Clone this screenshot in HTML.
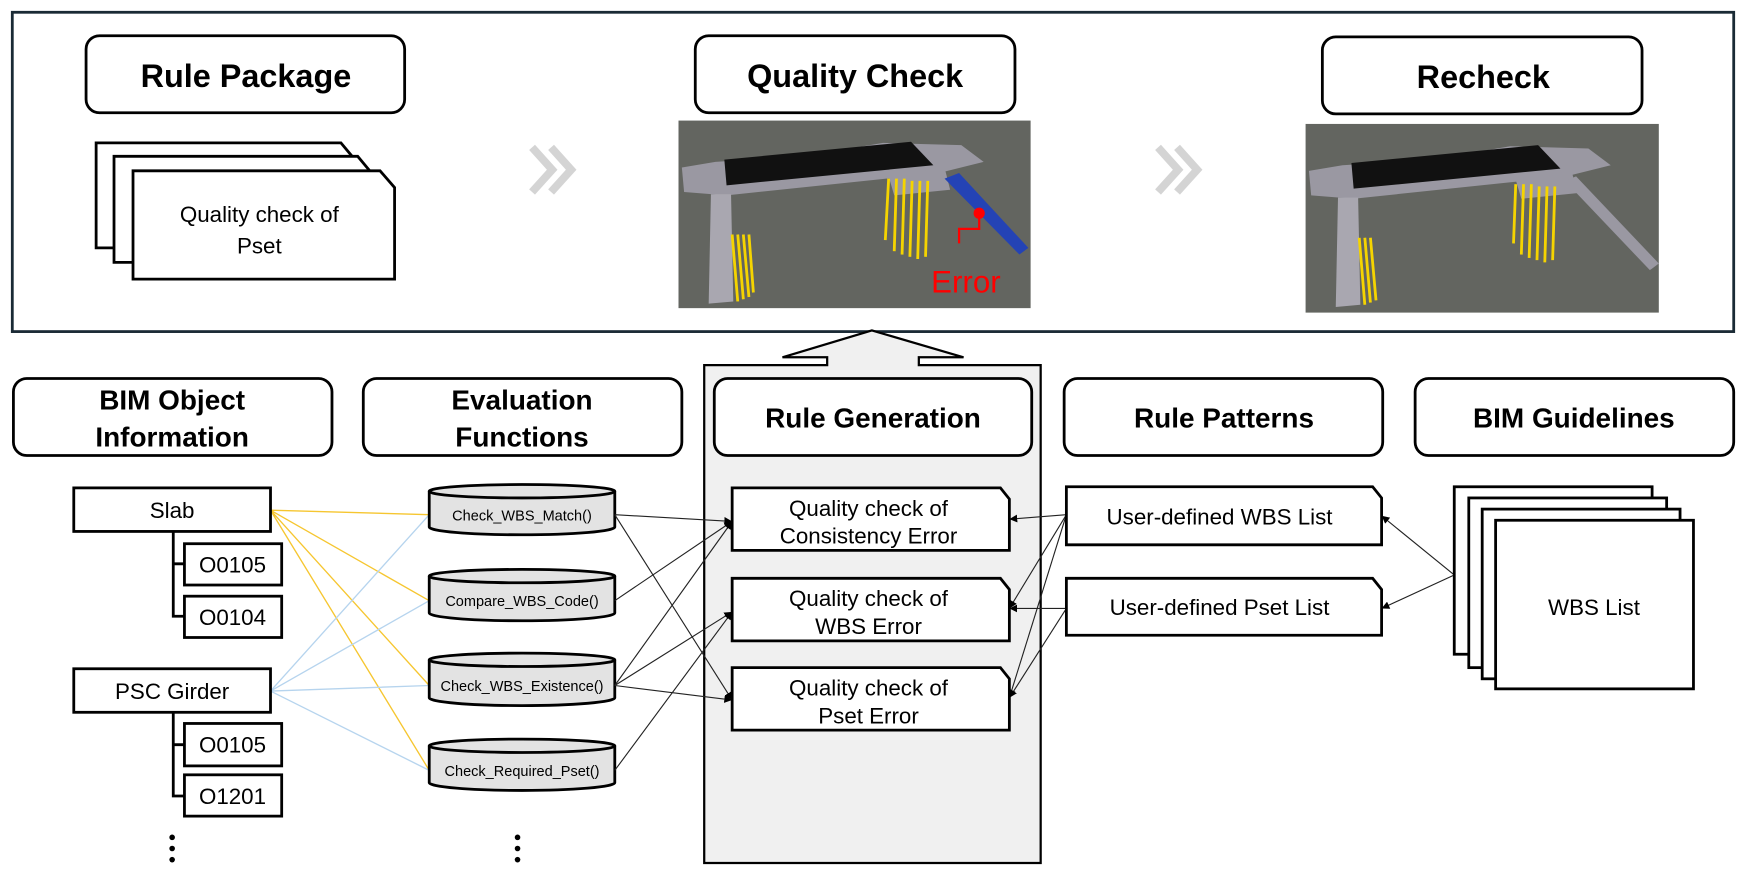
<!DOCTYPE html>
<html><head><meta charset="utf-8"><style>
html,body{margin:0;padding:0;background:#fff;width:1746px;height:882px;overflow:hidden}
svg{display:block}
text{font-family:"Liberation Sans","Noto Sans CJK KR",sans-serif}
.h{font-weight:bold;font-size:29px;text-anchor:middle}
.h2{font-weight:bold;font-size:25px;text-anchor:middle}
.t{font-size:20px;text-anchor:middle}
.c{font-size:13px;text-anchor:middle}
</style></head><body>
<svg width="1746" height="882" viewBox="0 0 1562 790" preserveAspectRatio="none" xmlns="http://www.w3.org/2000/svg">
<defs>
<marker id="ar" viewBox="0 0 10 10" refX="10" refY="5" markerWidth="7" markerHeight="7" orient="auto"><path d="M0,0L10,5L0,10z" fill="#000"/></marker>
</defs>
<rect x="11" y="11" width="1540" height="286" fill="#fff" stroke="#1a2a35" stroke-width="2.5"/>
<g fill="#fff" stroke="#000" stroke-width="2.5">
<rect x="77" y="32" width="285" height="69" rx="12"/>
<rect x="622" y="32" width="286" height="69" rx="12"/>
<rect x="1183" y="33" width="286" height="69" rx="12"/>
</g>
<text class="h" x="220" y="78">Rule Package</text>
<text class="h" x="765" y="78">Quality Check</text>
<text class="h" x="1327" y="79">Recheck</text>
<g fill="#fff" stroke="#000" stroke-width="2.5">
<path d="M86,128H305L315,140V222H86Z"/>
<path d="M102,140H320L330,152V235H102Z"/>
<path d="M119,153H340L353,168V250H119Z"/>
</g>
<text class="t" x="232" y="199" font-size="21">Quality check of</text>
<text class="t" x="232" y="227" font-size="21">Pset</text>
<g fill="none" stroke="#d4d4d4" stroke-width="7">
<path d="M476,132L494,152L476,172"/><path d="M493,132L511,152L493,172"/>
<path d="M1036,132L1054,152L1036,172"/><path d="M1053,132L1071,152L1053,172"/>
</g>
<g>
<rect x="607" y="108" width="315" height="168" fill="#636560"/>
<path d="M610,150L640,145L720,140L790,128L860,130L880,145L840,155L650,175L612,172Z" fill="#9a98a2"/>
<path d="M648,143L815,127L835,148L650,166Z" fill="#111"/>
<path d="M795,158L845,150L850,170L800,175Z" fill="#9a98a2"/>
<path d="M636,174L654,174L656,270L634,272Z" fill="#a9a7b0"/>
<g stroke="#f5d400" stroke-width="2.5"><path d="M655,210L660,270M660,210L665,268M665,210L670,266M670,210L674,262"/><path d="M795,160L792,215M802,160L800,225M809,160L807,228M816,162L814,230M823,162L821,232M830,162L828,230"/></g>
<path d="M845,160L858,155L920,222L912,228Z" fill="#2443b5"/>
<circle cx="876" cy="191" r="5" fill="#f00"/>
<path d="M876,191V205H858V218" stroke="#f00" stroke-width="2" fill="none"/>
<text x="833" y="262" fill="#f00" font-size="28" style="font-family:'Liberation Sans',sans-serif">Error</text>
<rect x="1168" y="111" width="316" height="169" fill="#636560"/>
<path d="M1171,153L1201,148L1281,143L1351,131L1421,133L1441,148L1401,158L1211,178L1173,175Z" fill="#9a98a2"/>
<path d="M1209,146L1376,130L1396,151L1211,169Z" fill="#111"/>
<path d="M1356,161L1406,153L1411,173L1361,178Z" fill="#9a98a2"/>
<path d="M1197,177L1215,177L1217,273L1195,275Z" fill="#a9a7b0"/>
<path d="M1400,162L1410,158L1484,236L1476,242Z" fill="#9a98a2"/>
<g stroke="#f5d400" stroke-width="2.5"><path d="M1216,213L1221,273M1221,213L1226,271M1226,213L1231,269"/><path d="M1356,165L1354,218M1363,165L1361,228M1370,165L1368,231M1377,167L1375,233M1384,167L1382,235M1391,167L1389,233"/></g>
</g>
<path d="M630,773V327H740V320H700L780,296L862,320H822V327H931V773Z" fill="#f0f0f0" stroke="#000" stroke-width="2"/>
<g fill="#fff" stroke="#000" stroke-width="2.5">
<rect x="12" y="339" width="285" height="69" rx="12"/>
<rect x="325" y="339" width="285" height="69" rx="12"/>
<rect x="639" y="339" width="284" height="69" rx="12"/>
<rect x="952" y="339" width="285" height="69" rx="12"/>
<rect x="1266" y="339" width="285" height="69" rx="12"/>
</g>
<text class="h2" x="154" y="367">BIM Object</text>
<text class="h2" x="154" y="400">Information</text>
<text class="h2" x="467" y="367">Evaluation</text>
<text class="h2" x="467" y="400">Functions</text>
<text class="h2" x="781" y="383">Rule Generation</text>
<text class="h2" x="1095" y="383">Rule Patterns</text>
<text class="h2" x="1408" y="383">BIM Guidelines</text>
<g stroke="#f6c630" stroke-width="1.2" fill="none">
<path d="M242,457L384,461M242,457L384,538M242,457L384,614M242,457L384,690"/>
</g>
<g stroke="#b6d4ee" stroke-width="1.2" fill="none">
<path d="M242,619L384,461M242,619L384,538M242,619L384,614M242,619L384,690"/>
</g>
<g stroke="#000" stroke-width="2.5" fill="none">
<path d="M155,476V552H165M155,505H165"/>
<path d="M155,638V713H165M155,667H165"/>
</g>
<g fill="#fff" stroke="#000" stroke-width="2.5">
<rect x="66" y="437" width="176" height="39"/>
<rect x="165" y="487" width="87" height="37"/>
<rect x="165" y="534" width="87" height="37"/>
<rect x="66" y="599" width="176" height="39"/>
<rect x="165" y="648" width="87" height="38"/>
<rect x="165" y="694" width="87" height="37"/>
</g>
<text class="t" x="154" y="464">Slab</text>
<text class="t" x="208" y="513">O0105</text>
<text class="t" x="208" y="560">O0104</text>
<text class="t" x="154" y="626">PSC Girder</text>
<text class="t" x="208" y="674">O0105</text>
<text class="t" x="208" y="720">O1201</text>
<g fill="#000"><circle cx="154" cy="750" r="2.5"/><circle cx="154" cy="760" r="2.5"/><circle cx="154" cy="770" r="2.5"/>
<circle cx="463" cy="750" r="2.5"/><circle cx="463" cy="760" r="2.5"/><circle cx="463" cy="770" r="2.5"/></g>
<g fill="#e3e3e3" stroke="#000" stroke-width="2.5">
<path d="M384,440V472A83,7 0 0 0 550,472V440"/><ellipse cx="467" cy="440" rx="83" ry="6"/>
<path d="M384,516V549A83,7 0 0 0 550,549V516"/><ellipse cx="467" cy="516" rx="83" ry="6"/>
<path d="M384,591V625A83,7 0 0 0 550,625V591"/><ellipse cx="467" cy="591" rx="83" ry="6"/>
<path d="M384,668V701A83,7 0 0 0 550,701V668"/><ellipse cx="467" cy="668" rx="83" ry="6"/>
</g>
<text class="c" x="467" y="466">Check_WBS_Match()</text>
<text class="c" x="467" y="543">Compare_WBS_Code()</text>
<text class="c" x="467" y="619">Check_WBS_Existence()</text>
<text class="c" x="467" y="695">Check_Required_Pset()</text>
<g stroke="#222" stroke-width="1" fill="none" marker-end="url(#ar)">
<path d="M550,461L655,467"/><path d="M550,461L655,627"/>
<path d="M550,538L655,467"/>
<path d="M550,614L655,467"/><path d="M550,614L655,548"/><path d="M550,614L655,627"/>
<path d="M550,690L655,548"/>
<path d="M954,461L903,465"/><path d="M954,461L903,545"/><path d="M954,461L903,625"/>
<path d="M954,545L903,545"/><path d="M954,545L903,625"/>
<path d="M1301,515L1236,462"/><path d="M1301,515L1236,545"/>
</g>
<g fill="#fff" stroke="#000" stroke-width="2.5">
<path d="M655,437H895L903,447V493H655Z"/>
<path d="M655,518H895L903,528V574H655Z"/>
<path d="M655,598H895L903,608V654H655Z"/>
<path d="M954,436H1228L1236,446V488H954Z"/>
<path d="M954,518H1228L1236,528V569H954Z"/>
</g>
<text class="t" x="777" y="462">Quality check of</text>
<text class="t" x="777" y="487">Consistency Error</text>
<text class="t" x="777" y="543">Quality check of</text>
<text class="t" x="777" y="568">WBS Error</text>
<text class="t" x="777" y="623">Quality check of</text>
<text class="t" x="777" y="648">Pset Error</text>
<text class="t" x="1091" y="470">User-defined WBS List</text>
<text class="t" x="1091" y="551">User-defined Pset List</text>
<g fill="#fff" stroke="#000" stroke-width="2.5">
<rect x="1301" y="436" width="177" height="150"/>
<rect x="1314" y="446" width="177" height="152"/>
<rect x="1326" y="456" width="177" height="152"/>
<rect x="1338" y="466" width="177" height="151"/>
</g>
<text class="t" x="1426" y="551">WBS List</text>
</svg>
</body></html>
